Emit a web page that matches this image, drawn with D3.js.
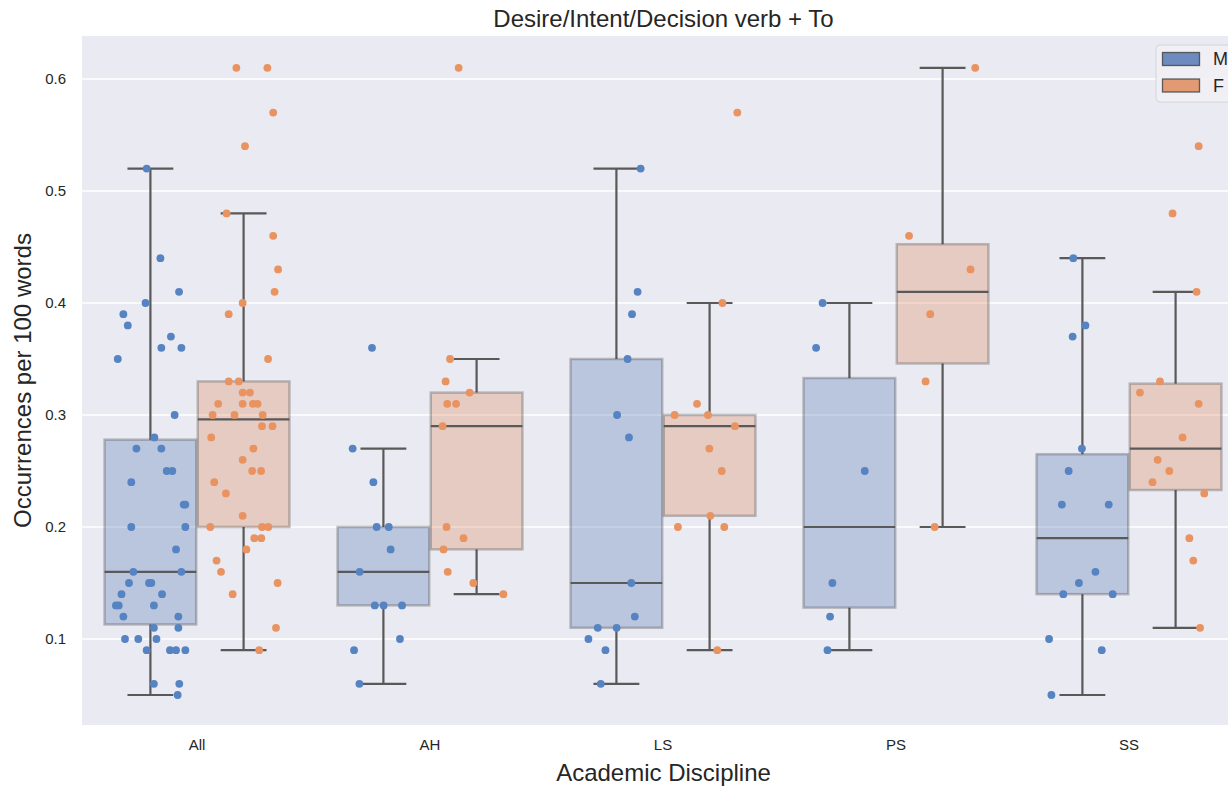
<!DOCTYPE html>
<html>
<head>
<meta charset="utf-8">
<script src="https://cdn.jsdelivr.net/npm/d3@7"></script>
<style>
  body { margin: 0; background: #fff; }
  svg { display: block; font-family: "Liberation Sans", Arial, sans-serif; }
</style>
</head>
<body>
<div id="svg-container"></div>
<script>
// categories and groups
const disciplines = ['All', 'AH', 'LS', 'PS', 'SS'];
const genders = ['M', 'F'];
const yTicks = [0.1, 0.2, 0.3, 0.4, 0.5, 0.6];

// box stats: [whiskerLow, q1, median, q3, whiskerHigh]
const boxM = [
    [0.05, 0.113, 0.16, 0.278, 0.52],
    [0.06, 0.13, 0.16, 0.20, 0.27],
    [0.06, 0.11, 0.15, 0.35, 0.52],
    [0.09, 0.128, 0.20, 0.333, 0.40],
    [0.05, 0.14, 0.19, 0.265, 0.44]
];
const boxF = [
    [0.09, 0.20, 0.296, 0.33, 0.48],
    [0.14, 0.18, 0.29, 0.32, 0.35],
    [0.09, 0.21, 0.29, 0.30, 0.40],
    [0.20, 0.346, 0.41, 0.4525, 0.61],
    [0.11, 0.233, 0.27, 0.328, 0.41]
];

// strip points: [value, jitter as fraction of the category band]
const allM = [[0.52,-0.016],[0.44,0.043],[0.41,0.123],[0.40,-0.021],[0.39,-0.116],[0.38,-0.097],[0.37,0.088],
    [0.36,0.047],[0.36,0.133],[0.35,-0.140],[0.30,0.104],[0.28,0.017],[0.27,-0.060],[0.27,0.047],[0.25,0.070],
    [0.25,0.094],[0.24,-0.082],[0.22,0.143],[0.22,0.150],[0.20,-0.082],[0.20,0.150],[0.18,0.110],[0.16,-0.073],
    [0.16,0.133],[0.15,-0.092],[0.15,-0.006],[0.15,0.004],[0.14,-0.124],[0.14,0.050],[0.13,-0.148],[0.13,-0.136],
    [0.13,0.015],[0.12,-0.116],[0.12,0.120],[0.11,0.015],[0.11,0.120],[0.10,-0.109],[0.10,-0.052],[0.10,0.026],
    [0.09,-0.016],[0.09,0.084],[0.09,0.110],[0.09,0.150],[0.06,0.015],[0.06,0.124],[0.05,0.117]];
const allF = [[0.61,-0.031],[0.61,0.102],[0.57,0.127],[0.54,0.006],[0.48,-0.073],[0.46,0.127],[0.43,0.148],
    [0.41,0.133],[0.40,-0.004],[0.39,-0.064],[0.35,0.105],[0.33,-0.064],[0.33,-0.021],[0.32,-0.004],[0.32,0.027],
    [0.31,-0.109],[0.31,-0.004],[0.31,0.040],[0.31,0.060],[0.30,-0.133],[0.30,-0.039],[0.30,0.082],[0.29,0.079],
    [0.29,0.124],[0.28,-0.139],[0.27,0.042],[0.26,-0.004],[0.25,0.037],[0.25,0.075],[0.24,-0.126],[0.23,-0.076],
    [0.21,-0.004],[0.20,-0.143],[0.20,0.079],[0.20,0.106],[0.19,0.046],[0.19,0.076],[0.18,0.012],[0.17,-0.116],
    [0.16,-0.097],[0.15,0.146],[0.14,-0.047],[0.11,0.139],[0.09,0.067]];
const ahM = [[0.36,-0.049],[0.27,-0.132],[0.24,-0.043],[0.20,-0.029],[0.20,0.023],[0.18,0.031],[0.16,-0.102],
    [0.13,-0.037],[0.13,0.001],[0.13,0.080],[0.10,0.071],[0.09,-0.126],[0.06,-0.103]];
const ahF = [[0.61,-0.077],[0.35,-0.114],[0.33,-0.133],[0.32,-0.030],[0.31,-0.126],[0.31,-0.088],[0.29,-0.146],
    [0.20,-0.129],[0.19,-0.056],[0.18,-0.142],[0.16,-0.124],[0.15,-0.014],[0.14,0.115]];
const lsM = [[0.52,0.104],[0.41,0.091],[0.39,0.067],[0.35,0.048],[0.30,0.003],[0.28,0.054],[0.15,0.064],
    [0.12,0.079],[0.11,-0.080],[0.11,0.001],[0.10,-0.120],[0.09,-0.047],[0.06,-0.067]];
const lsF = [[0.57,0.119],[0.40,0.055],[0.31,-0.054],[0.30,-0.150],[0.30,-0.007],[0.29,0.109],[0.27,-0.001],
    [0.25,0.052],[0.21,0.003],[0.20,-0.136],[0.20,0.063],[0.09,0.033]];
const psM = [[0.40,-0.115],[0.36,-0.143],[0.25,0.066],[0.15,-0.073],[0.12,-0.083],[0.09,-0.094]];
const psF = [[0.61,0.140],[0.46,-0.144],[0.43,0.120],[0.39,-0.053],[0.33,-0.073],[0.20,-0.034]];
const ssM = [[0.44,-0.039],[0.38,0.013],[0.37,-0.042],[0.27,-0.002],[0.25,-0.059],[0.22,-0.088],[0.22,0.113],
    [0.16,0.056],[0.15,-0.015],[0.14,-0.082],[0.14,0.130],[0.10,-0.143],[0.09,0.083],[0.05,-0.133]];
const ssF = [[0.54,0.099],[0.48,-0.013],[0.41,0.090],[0.33,-0.067],[0.32,-0.153],[0.31,0.099],[0.28,0.030],
    [0.26,-0.077],[0.25,-0.027],[0.24,-0.099],[0.23,0.123],[0.19,0.059],[0.17,0.076],[0.11,0.105]];

const pointsM = [allM, ahM, lsM, psM, ssM];
const pointsF = [allF, ahF, lsF, psF, ssF];

// dimensions
const dim = { width: 1228, height: 786, left: 82, top: 36, bottom: 725, right: 1245 };

const boxColor = { M: '#4c72b0', F: '#dd8452' };
const dotColor = { M: '#5683c2', F: '#e99360' };
const lineColor = '#595959';

const svg = d3.select('#svg-container')
    .append('svg')
    .attr('width', dim.width)
    .attr('height', dim.height);

// scales
const xScale = d3.scaleBand()
    .domain(disciplines)
    .range([80.5, 1245.5]);
const bw = xScale.bandwidth();

const hueScale = d3.scaleBand()
    .domain(genders)
    .range([0.1 * bw, 0.9 * bw]);

const yScale = d3.scaleLinear()
    .domain([0.0232, 0.6384])
    .range([dim.bottom, dim.top]);

// background
svg.append('rect')
    .attr('x', dim.left)
    .attr('y', dim.top)
    .attr('width', dim.right - dim.left)
    .attr('height', dim.bottom - dim.top)
    .attr('fill', '#eaeaf2');

// grid
svg.append('g')
    .selectAll('line')
    .data(yTicks)
    .join('line')
    .attr('x1', dim.left)
    .attr('x2', dim.right)
    .attr('y1', d => yScale(d))
    .attr('y2', d => yScale(d))
    .attr('stroke', '#fff')
    .attr('stroke-width', 1.5);

// y axis
const yAxis = svg.append('g')
    .attr('transform', `translate(${dim.left},0)`)
    .call(d3.axisLeft(yScale).tickValues(yTicks).tickFormat(d3.format('.1f')).tickSize(0).tickPadding(16));
yAxis.select('.domain').remove();
yAxis.selectAll('text')
    .attr('font-size', 15)
    .attr('fill', '#262626')
    .attr('font-family', '"Liberation Sans", Arial, sans-serif');

// x axis
const xAxis = svg.append('g')
    .attr('transform', `translate(0,${dim.bottom})`)
    .call(d3.axisBottom(xScale).tickSize(0).tickPadding(14));
xAxis.select('.domain').remove();
xAxis.selectAll('text')
    .attr('font-size', 15)
    .attr('fill', '#262626')
    .attr('font-family', '"Liberation Sans", Arial, sans-serif');

// boxes
const groups = [];
disciplines.forEach((cat, i) => {
    groups.push({ cat, g: 'M', stats: boxM[i], pts: pointsM[i] });
    groups.push({ cat, g: 'F', stats: boxF[i], pts: pointsF[i] });
});

const cx = d => xScale(d.cat) + hueScale(d.g) + hueScale.bandwidth() / 2;
const boxW = hueScale.bandwidth() - 1.5;

const boxes = svg.append('g')
    .selectAll('g')
    .data(groups)
    .join('g');

// whiskers
boxes.append('line')
    .attr('x1', cx).attr('x2', cx)
    .attr('y1', d => yScale(d.stats[3])).attr('y2', d => yScale(d.stats[4]))
    .attr('stroke', lineColor).attr('stroke-width', 2.2);
boxes.append('line')
    .attr('x1', cx).attr('x2', cx)
    .attr('y1', d => yScale(d.stats[0])).attr('y2', d => yScale(d.stats[1]))
    .attr('stroke', lineColor).attr('stroke-width', 2.2);
// caps
[0, 4].forEach(k => {
    boxes.append('line')
        .attr('x1', d => cx(d) - boxW / 4).attr('x2', d => cx(d) + boxW / 4)
        .attr('y1', d => yScale(d.stats[k])).attr('y2', d => yScale(d.stats[k]))
        .attr('stroke', lineColor).attr('stroke-width', 2.2);
});

boxes.append('rect')
    .attr('x', d => cx(d) - boxW / 2)
    .attr('width', boxW)
    .attr('y', d => yScale(d.stats[3]))
    .attr('height', d => yScale(d.stats[1]) - yScale(d.stats[3]))
    .attr('fill', d => boxColor[d.g])
    .attr('fill-opacity', 0.3)
    .attr('stroke', '#3f3f3f')
    .attr('stroke-opacity', 0.3)
    .attr('stroke-width', 2.5);

// medians
boxes.append('line')
    .attr('x1', d => cx(d) - boxW / 2).attr('x2', d => cx(d) + boxW / 2)
    .attr('y1', d => yScale(d.stats[2])).attr('y2', d => yScale(d.stats[2]))
    .attr('stroke', lineColor).attr('stroke-width', 2.2);

// strip points
boxes.selectAll('circle')
    .data(d => d.pts.map(p => ({ v: p[0], j: p[1], parent: d })))
    .join('circle')
    .attr('cx', d => cx(d.parent) + d.j * bw)
    .attr('cy', d => yScale(d.v))
    .attr('r', 3.9)
    .attr('fill', d => dotColor[d.parent.g]);

// title and labels
svg.append('text')
    .attr('x', (dim.left + dim.right) / 2)
    .attr('y', 27)
    .attr('text-anchor', 'middle')
    .attr('font-size', 24)
    .attr('fill', '#262626')
    .text('Desire/Intent/Decision verb + To');

svg.append('text')
    .attr('x', (dim.left + dim.right) / 2)
    .attr('y', 781)
    .attr('text-anchor', 'middle')
    .attr('font-size', 24)
    .attr('fill', '#262626')
    .text('Academic Discipline');

svg.append('text')
    .attr('transform', `translate(31,${(dim.top + dim.bottom) / 2}) rotate(-90)`)
    .attr('text-anchor', 'middle')
    .attr('font-size', 24)
    .attr('fill', '#262626')
    .text('Occurrences per 100 words');

// legend
const legend = svg.append('g').attr('transform', 'translate(1156,45)');
legend.append('rect')
    .attr('width', 110).attr('height', 57).attr('rx', 4)
    .attr('fill', '#f0f0f5').attr('fill-opacity', 0.85)
    .attr('stroke', '#d4d4dc');
genders.forEach((g, i) => {
    legend.append('rect')
        .attr('x', 6.5).attr('y', 7.5 + i * 26.5)
        .attr('width', 37).attr('height', 13)
        .attr('fill', boxColor[g]).attr('fill-opacity', 0.8)
        .attr('stroke', '#3f3f3f').attr('stroke-opacity', 0.8).attr('stroke-width', 1.3);
    legend.append('text')
        .attr('x', 57).attr('y', 20 + i * 26.5)
        .attr('font-size', 18)
        .attr('fill', '#262626')
        .text(g);
});
</script>
</body>
</html>
